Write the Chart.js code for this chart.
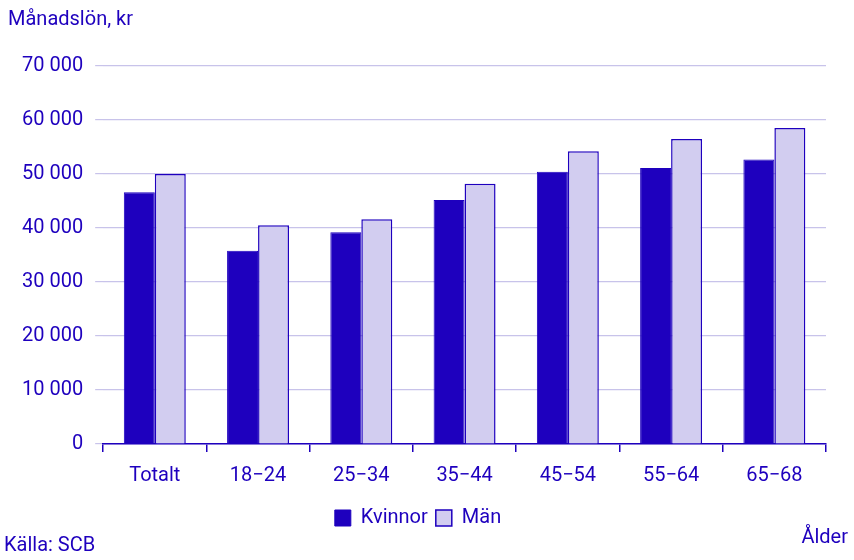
<!DOCTYPE html>
<html><head><meta charset="utf-8">
<script src="https://cdn.jsdelivr.net/npm/chart.js@4/dist/chart.umd.min.js"></script>
<style>
body{margin:0;width:854px;height:560px;overflow:hidden;background:#fff;font-family:Roboto,sans-serif;color:#1e00be}
#wrap{position:absolute;left:0;top:0;width:854px;height:560px}
.t{position:absolute;font-size:20px;color:#1e00be}
</style></head><body>
<div id="wrap"><canvas id="c" width="854" height="560"></canvas></div>
<div class="t" style="left:8px;top:6px">Månadslön, kr</div>
<div class="t" style="left:4px;top:532px">Källa: SCB</div>
<div class="t" style="right:6px;top:524px">Ålder</div>
<script>
const categories=["Totalt","18−24","25−34","35−44","45−54","55−64","65−68"];
const kvinnor=[46600,35800,39200,45200,50400,51100,52700];
const man=[50000,40500,41600,48200,54200,56500,58500];
const seriesNames=["Kvinnor","Män"];
const dark="#1e00be";
Chart.defaults.font.family="Roboto, sans-serif";
Chart.defaults.font.size=20;
Chart.defaults.color=dark;
new Chart(document.getElementById('c'),{
type:'bar',
data:{labels:categories,datasets:[
{label:seriesNames[0],data:kvinnor,backgroundColor:dark,borderColor:dark,borderWidth:1},
{label:seriesNames[1],data:man,backgroundColor:"#d2cdf0",borderColor:dark,borderWidth:1.5}
]},
options:{responsive:false,animation:false,
layout:{padding:{left:10,right:28,top:66,bottom:22}},
categoryPercentage:0.6,barPercentage:1.0,
plugins:{legend:{position:'bottom',labels:{boxWidth:16,boxHeight:16,padding:8,font:{size:20},color:dark}},tooltip:{enabled:false}},
scales:{
x:{grid:{display:true,drawOnChartArea:false,offset:true,color:dark,tickLength:8,lineWidth:1.5},border:{color:dark,width:1.5},ticks:{color:dark,padding:12}},
y:{min:0,max:70000,ticks:{stepSize:10000,color:dark,padding:12,callback:v=>v===0?"0":String(v).replace(/\B(?=(\d{3})+(?!\d))/g," ")},
grid:{color:"#c8c3ea",lineWidth:1.2,tickLength:8},border:{display:false}}
}}
});
</script></body></html>
